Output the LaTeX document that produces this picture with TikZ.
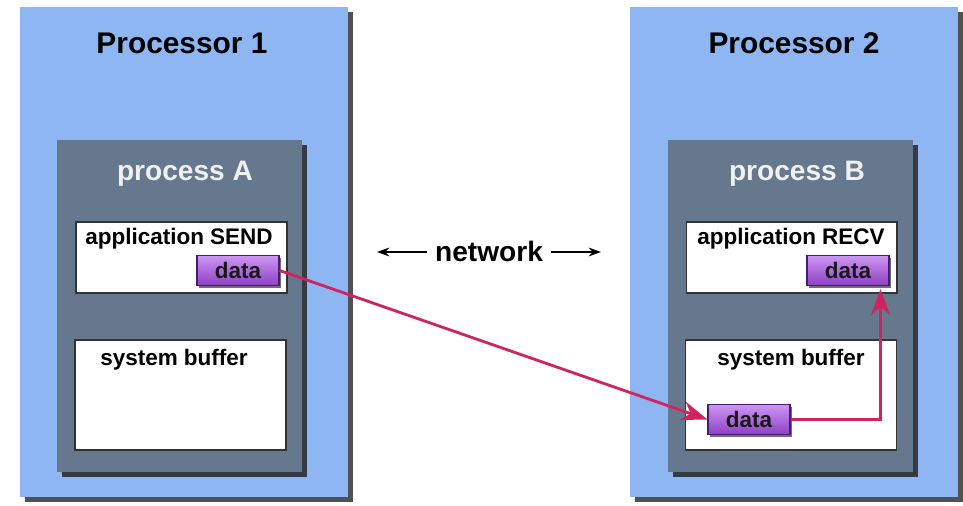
\documentclass[tikz,border=0pt]{standalone}
\usepackage{fontspec}
\setmainfont{Liberation Sans}
\usetikzlibrary{arrows.meta,shadows}
\definecolor{cpublue}{HTML}{8DB6F2}
\definecolor{procgray}{HTML}{66788E}
\definecolor{datatop}{HTML}{CC96F2}
\definecolor{databot}{HTML}{8E40C6}
\definecolor{dataedge}{HTML}{4A1A72}
\definecolor{msgred}{HTML}{D0245E}
\begin{document}
\begin{tikzpicture}[x=0.02cm, y=-0.02cm,
    cpu/.style={rectangle, fill=cpublue, inner sep=0pt, minimum width=6.56cm, minimum height=9.8cm,
        drop shadow={shadow xshift=0.1cm, shadow yshift=-0.1cm, fill=black!80, opacity=0.85}},
    proc/.style={rectangle, fill=procgray, inner sep=0pt, minimum width=4.9cm, minimum height=6.64cm,
        drop shadow={shadow xshift=0.1cm, shadow yshift=-0.1cm, fill=black!85, opacity=0.85}},
    membox/.style={rectangle, draw=black!80, line width=0.6pt, fill=white, inner sep=0pt, minimum width=4.22cm},
    datum/.style={rectangle, draw=dataedge, line width=0.6pt, top color=datatop, bottom color=databot,
        inner sep=0pt, minimum width=1.64cm, minimum height=0.6cm, text=black!90,
        font=\fontsize{12.8}{14}\selectfont\bfseries,
        drop shadow={shadow xshift=0.04cm, shadow yshift=-0.05cm, fill=black!80, opacity=0.7}},
    cputitle/.style={font=\fontsize{17}{19}\selectfont\bfseries, text=black},
    proctitle/.style={font=\fontsize{16}{18}\selectfont\bfseries, text=black!6},
    boxtext/.style={font=\fontsize{12.8}{14}\selectfont\bfseries, text=black},
    msg/.style={draw=msgred, line width=1.6pt, -{Stealth[length=15pt, width=11pt]}}]

    \useasboundingbox (0,0) rectangle (963,506);

    % processors
    \node[cpu] (cpuA) at (184,252) {};
    \node[cpu] (cpuB) at (794,252) {};
    \node[cputitle] (cpuAtitle) at (182,43) {Processor 1};
    \node[cputitle] (cpuBtitle) at (794,43) {Processor 2};

    % processes
    \node[proc] (procA) at (179.5,306) {};
    \node[proc] (procB) at (790.5,306) {};
    \node[proctitle] (procAtitle) at (185,174) {process A};
    \node[proctitle] (procBtitle) at (797,174) {process B};

    % memory of each process
    \node[membox, minimum height=1.42cm] (appA) at (181.5,257.5) {};
    \node[membox, minimum height=1.42cm] (appB) at (791.5,257.5) {};
    \node[membox, minimum height=2.2cm] (bufA) at (180.5,395) {};
    \node[membox, minimum height=2.2cm] (bufB) at (791,395) {};
    \node[boxtext] (appAtext) at (179,239) {application SEND};
    \node[boxtext] (appBtext) at (791,239) {application RECV};
    \node[boxtext] (bufAtext) at (174,360) {system buffer};
    \node[boxtext] (bufBtext) at (791,360) {system buffer};

    % the message
    \node[datum] (dataA) at (238,270.5) {data};
    \node[datum] (dataB) at (848,270.5) {data};
    \node[datum] (dataBuf) at (749,419.5) {data};

    \draw[msg] (dataA.east) -- (dataBuf.west);
    \draw[msg] (dataBuf.east) -| ([xshift=-0.18cm, yshift=-0.06cm]dataB.south east);

    % network
    \node[font=\fontsize{16}{18}\selectfont\bfseries, inner sep=1pt] (net) at (489,251) {network};
    \coordinate (netL) at (377,252);
    \coordinate (netR) at (601,252);
    \draw[-{Stealth[length=7pt, width=5pt]}, line width=0.8pt] ([xshift=-0.12cm]net.west |- netL) -- (netL);
    \draw[-{Stealth[length=7pt, width=5pt]}, line width=0.8pt] ([xshift=0.12cm]net.east |- netR) -- (netR);
\end{tikzpicture}
\end{document}
